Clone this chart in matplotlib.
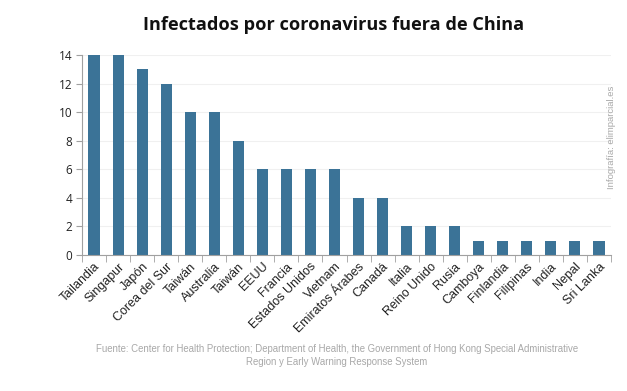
import matplotlib
matplotlib.use('agg')
import matplotlib.pyplot as plt

countries = ['Tailandia', 'Singapur', 'Japón', 'Corea del Sur', 'Taiwán', 'Australia',
             'Taiwán', 'EEUU', 'Francia', 'Estados Unidos', 'Vietnam', 'Emiratos Árabes',
             'Canadá', 'Italia', 'Reino Unido', 'Rusia', 'Camboya', 'Finlandia',
             'Filipinas', 'India', 'Nepal', 'Sri Lanka']
infected = [14, 14, 13, 12, 10, 10, 8, 6, 6, 6, 6, 4, 4, 2, 2, 2, 1, 1, 1, 1, 1, 1]
yticks = [0, 2, 4, 6, 8, 10, 12, 14]

BAR_COLOUR = '#3b7397'
AXIS_COLOUR = '#a0a0a0'

fig = plt.figure(figsize=(6.27, 3.91), dpi=100)
ax = fig.add_axes([82 / 627, 1 - 255 / 391, (611 - 82) / 627, 200 / 391])

xs = list(range(len(countries)))
ax.bar(xs, infected, 0.46, color=BAR_COLOUR, zorder=2)

ax.set_xlim(-0.5, len(countries) - 0.5)
ax.set_ylim(0, 14)
ax.set_yticks(yticks)
ax.set_yticklabels([str(t) for t in yticks], fontsize=8.5, family='Open Sans', color='#222222')
ax.yaxis.grid(True, color='#f0f0f0', linewidth=0.8, zorder=0)

ax.set_xticks(xs)
ax.set_xticklabels(countries, rotation=45, ha='right', rotation_mode='anchor',
                   fontsize=9, family='Liberation Sans', color='#222222')
ax.tick_params(axis='x', length=0, pad=4)
# tick marks sit between the bars
ax.set_xticks([i - 0.5 for i in range(len(countries) + 1)], minor=True)
ax.tick_params(axis='x', which='minor', length=5, color=AXIS_COLOUR)
ax.tick_params(axis='y', length=4, color=AXIS_COLOUR, pad=3)

for side in ['top', 'right']:
    ax.spines[side].set_visible(False)
for side in ['left', 'bottom']:
    ax.spines[side].set_color(AXIS_COLOUR)
    ax.spines[side].set_linewidth(0.8)

fig.text(0.532, 1 - 25 / 391, 'Infectados por coronavirus fuera de China', ha='center', va='center',
         fontsize=13.1, fontweight='bold', family='Open Sans', color='#111111')

fig.text(0.537, 1 - 349 / 391,
         'Fuente: Center for Health Protection; Department of Health, the Government of Hong Kong Special Administrative',
         ha='center', va='center', fontsize=6.9, family='Liberation Sans', color='#a8a8a8')
fig.text(0.537, 1 - 362 / 391, 'Region y Early Warning Response System',
         ha='center', va='center', fontsize=6.9, family='Liberation Sans', color='#a8a8a8')

fig.text(612 / 627, 1 - 137 / 391, 'Infografía: elimparcial.es', rotation=90, ha='center', va='center',
         fontsize=6.8, family='Liberation Sans', color='#a8a8a8')

fig.savefig('out.png', dpi=100)
